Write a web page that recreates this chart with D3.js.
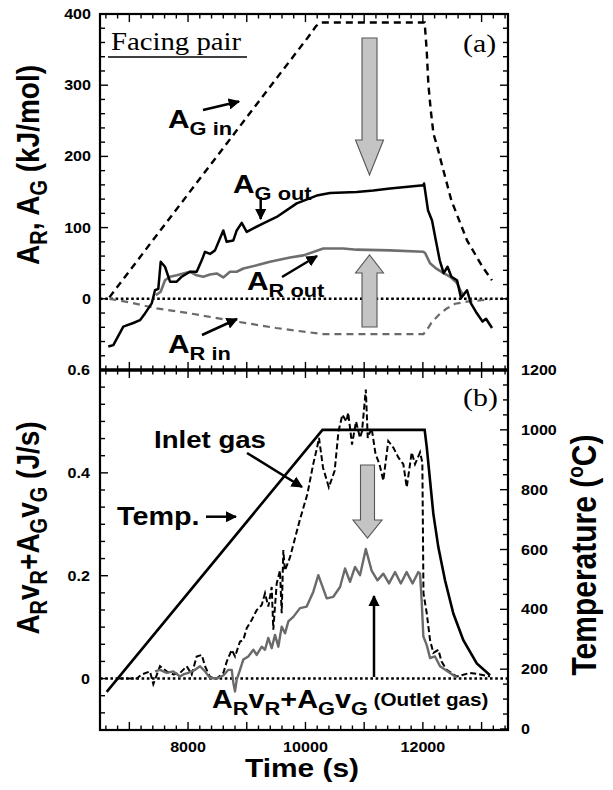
<!DOCTYPE html>
<html><head><meta charset="utf-8">
<script src="https://cdn.jsdelivr.net/npm/d3@7"></script>
<style>body{margin:0;background:#fff} svg{display:block}</style>
</head><body><svg id="c" width="613" height="790"></svg>
<script>
// ---------- data (time s, value) ----------
const agIn = [[6660,2],[7500,93],[8500,201],[9500,309],[10050,368],[10180,383],[10260,388],[12030,388],[12065,349],[12093,302],[12134,265],[12180,232],[12248,213],[12290,199],[12486,138],[12752,82],[13015,45],[13177,26]];
const arIn = [[6660,0],[7000,-5],[7466,-13.5],[8033,-20.5],[8829,-32],[9500,-41],[10000,-46.5],[10300,-49.5],[12010,-49.5],[12060,-45],[12150,-33],[12290,-21],[12400,-14],[12550,-7],[12750,-4],[13000,-2],[13150,-1]];
const agOut = [[6641,-67],[6727,-65],[6897,-39],[7067,-34],[7181,-30],[7267,-20.5],[7381,-6.5],[7437,12],[7493,14],[7534,52],[7607,45],[7693,24],[7807,24],[7892,31],[8033,38],[8147,38],[8233,54],[8289,66],[8374,63],[8459,68],[8600,96],[8658,80],[8771,82],[8829,96],[8914,106.6],[8999,94],[9112,99],[9282,106],[9510,115],[9851,134],[10192,145],[10418,148.7],[10873,150],[11156,152],[11440,155],[12008,159.5],[12020,162],[12088,124],[12156,110],[12221,82],[12287,54],[12354,36],[12420,45],[12486,31],[12582,26],[12650,1],[12752,12],[12817,-6],[12917,-20],[13016,-32],[13076,-28],[13178,-41]];
const arOut = [[7450,5],[7534,10],[7607,26],[7693,31],[7807,33],[8033,38],[8147,33],[8260,31],[8374,34],[8488,35.6],[8600,30],[8714,38],[8829,38],[8942,42.6],[9169,47],[9396,52],[9737,58],[9964,61],[10304,70.7],[10645,70.7],[10873,69],[11440,68],[12008,66],[12040,64],[12122,50],[12236,42],[12354,36],[12480,30],[12582,22],[12650,10],[12700,4]];
const temp = [[6614,124],[10290,1000],[12030,1000],[12066,942],[12122,831],[12178,720],[12263,608],[12377,497],[12519,386],[12689,297],[12918,219],[13144,180]];
const inlet = [[6800,0],[7125,0],[7210,0.008],[7352,0.014],[7408,-0.011],[7522,0.024],[7636,0.014],[7749,0.008],[7863,0.011],[7977,0.024],[8062,0.008],[8147,0.043],[8233,0.046],[8289,0.024],[8374,0.003],[8488,0],[8601,0.011],[8659,0.033],[8744,0.056],[8800,0.043],[8885,0.072],[8941,0.075],[8999,0.098],[9084,0.114],[9169,0.133],[9255,0.143],[9311,0.166],[9367,0.14],[9425,0.178],[9452,0.095],[9510,0.185],[9566,0.21],[9595,0.127],[9623,0.25],[9650,0.21],[9737,0.236],[9900,0.307],[10033,0.359],[10132,0.417],[10197,0.449],[10231,0.468],[10299,0.41],[10398,0.372],[10497,0.404],[10563,0.481],[10629,0.513],[10696,0.5],[10728,0.517],[10793,0.455],[10861,0.5],[10929,0.468],[10963,0.481],[11028,0.562],[11061,0.468],[11127,0.487],[11193,0.437],[11260,0.417],[11326,0.385],[11411,0.462],[11497,0.449],[11582,0.43],[11667,0.417],[11725,0.372],[11810,0.44],[11866,0.417],[11952,0.44],[11991,0.42],[12000,0.3],[12010,0.166],[12066,0.127],[12122,0.075],[12178,0.05],[12263,0.056],[12319,0.033],[12406,0.017],[12577,0.004],[12803,0.011],[12974,0.008],[13144,0.004]];
const outlet = [[7437,0.014],[7522,0.017],[7636,0.011],[7749,0.014],[7863,0.004],[7919,0.008],[8004,0.011],[8118,0.017],[8204,0.024],[8289,0.014],[8374,0.001],[8488,0],[8601,0.006],[8686,0.017],[8744,0.017],[8771,-0.008],[8800,-0.025],[8829,-0.002],[8885,0.017],[8941,0.037],[9026,0.043],[9112,0.056],[9169,0.046],[9255,0.062],[9311,0.056],[9367,0.079],[9425,0.059],[9481,0.085],[9538,0.062],[9595,0.101],[9652,0.088],[9708,0.111],[9793,0.12],[9907,0.137],[10021,0.14],[10134,0.169],[10219,0.201],[10362,0.156],[10474,0.159],[10589,0.178],[10674,0.214],[10759,0.188],[10844,0.217],[10929,0.201],[11028,0.252],[11127,0.21],[11226,0.191],[11326,0.204],[11423,0.185],[11526,0.207],[11624,0.185],[11723,0.207],[11824,0.185],[11922,0.207],[11952,0.204],[11980,0.15],[12008,0.082],[12066,0.065],[12122,0.04],[12207,0.043],[12292,0.024],[12462,0.011],[12577,0.002]];

// tick labels
const topYLabels = [0,100,200,300,400];
const botYLabels = [0,0.2,0.4,0.6];
const tempLabels = [0,200,400,600,800,1000,1200];
const timeLabels = [8000,10000,12000];

// ---------- layout ----------
const svg = d3.select('#c');
const L=100,R=508,T1=14,M=370,B2=730;
const SX=1.15;
const x = d3.scaleLinear().domain([6500,13450]).range([L,R]);
const yA = d3.scaleLinear().domain([-100,400]).range([M,T1]);
const yP = d3.scaleLinear().domain([-0.1,0.6]).range([B2,M]);
const yT = d3.scaleLinear().domain([0,1200]).range([729,M]);

const SANS="'Liberation Sans', Arial, sans-serif", SERIF="'Liberation Serif','Times New Roman',serif";

const defs = svg.append('defs');
defs.append('clipPath').attr('id','cp1').append('rect').attr('x',L).attr('y',T1).attr('width',R-L).attr('height',M-T1);
defs.append('clipPath').attr('id','cp2').append('rect').attr('x',L).attr('y',M).attr('width',R-L).attr('height',B2-M);
defs.append('marker').attr('id','ah').attr('viewBox','0 0 10 10').attr('refX',9).attr('refY',5)
  .attr('markerWidth',4.6).attr('markerHeight',4.6).attr('markerUnits','strokeWidth').attr('orient','auto')
  .append('path').attr('d','M0,0 L10,5 L0,10 z').attr('fill','#000');

const g1 = svg.append('g').attr('clip-path','url(#cp1)');
const g2 = svg.append('g').attr('clip-path','url(#cp2)');

function line(yS){ return d3.line().x(d=>x(d[0])).y(d=>yS(d[1])); }

g1.append('line').attr('x1',L).attr('x2',R).attr('y1',yA(0)).attr('y2',yA(0)).attr('stroke','#000').attr('stroke-width',2.6).attr('stroke-dasharray','2.6,2.6');
g2.append('line').attr('x1',L).attr('x2',R).attr('y1',yP(0)).attr('y2',yP(0)).attr('stroke','#000').attr('stroke-width',2.6).attr('stroke-dasharray','2.6,2.6');

g1.append('path').datum(agIn).attr('d',line(yA)).attr('fill','none').attr('stroke','#000').attr('stroke-width',2.4).attr('stroke-dasharray','7,5');
g1.append('path').datum(arIn).attr('d',line(yA)).attr('fill','none').attr('stroke','#6a6a6a').attr('stroke-width',2.2).attr('stroke-dasharray','7,5');
g1.append('path').datum(arOut).attr('d',line(yA)).attr('fill','none').attr('stroke','#6e6e6e').attr('stroke-width',2.6).attr('stroke-linejoin','round');
g1.append('path').datum(agOut).attr('d',line(yA)).attr('fill','none').attr('stroke','#000').attr('stroke-width',2.5).attr('stroke-linejoin','round');

g2.append('path').datum(temp).attr('d',line(yT)).attr('fill','none').attr('stroke','#000').attr('stroke-width',2.6);
g2.append('path').datum(inlet).attr('d',line(yP)).attr('fill','none').attr('stroke','#000').attr('stroke-width',2).attr('stroke-dasharray','6,3');
g2.append('path').datum(outlet).attr('d',line(yP)).attr('fill','none').attr('stroke','#6a6a6a').attr('stroke-width',2.4).attr('stroke-linejoin','round');

// ---------- frames & ticks ----------
const ax = svg.append('g').attr('stroke','#000');
function vt(xx, y0, y1, w){ ax.append('line').attr('x1',xx).attr('x2',xx).attr('y1',y0).attr('y2',y1).attr('stroke-width',w||1.4); }
function ht(yy, x0, x1, w){ ax.append('line').attr('x1',x0).attr('x2',x1).attr('y1',yy).attr('y2',yy).attr('stroke-width',w||1.4); }

const xMinor = d3.range(6600,13450,200);
xMinor.forEach(t=>{ const isM = t%1000===0, l = isM?8:4.5;
  vt(x(t), T1, T1+l); vt(x(t), M-l, M+l); vt(x(t), B2, B2-l); });
d3.range(-100,401,20).forEach(v=>{ const isM=v%100===0, l=isM?8:5;
  ht(yA(v), L, L+l); ht(yA(v), R, R-l); });
d3.range(-0.1,0.601,0.2/6).forEach(v=>{ const isM=Math.abs(v*5-Math.round(v*5))<1e-6, l=isM?8:5;
  if(yP(v)<=B2+0.5) ht(yP(v), L, L+l); });
d3.range(0,1201,50).forEach(v=>{ const isM=v%200===0, l=isM?8:5; ht(yT(v), R, R-l); });

svg.append('rect').attr('x',L).attr('y',T1).attr('width',R-L).attr('height',B2-T1).attr('fill','none').attr('stroke','#000').attr('stroke-width',2.2);
ht(M, L, R, 3.4);

// ---------- text ----------
function txt(xx, yy, parts, o){
  o=o||{};
  const tr = `translate(${xx},${yy}) scale(${o.sx||SX},1)` + (o.rot?` rotate(${o.rot})`:'');
  const t = svg.append('text').attr('transform',tr).attr('font-family',o.font||SANS)
    .attr('font-weight',o.weight||'bold').attr('font-size',o.size||26).attr('text-anchor',o.anchor||'start').attr('fill','#000');
  parts.forEach(p=>{ const s=t.append('tspan').text(p.t); if(p.s) s.attr('font-size',p.s); if(p.dy) s.attr('dy',p.dy); });
  return t;
}
topYLabels.forEach(v=> txt(91, yA(v)+5, [{t:String(v)}], {size:14, anchor:'end'}));
botYLabels.forEach(v=> txt(90, yP(v)+5, [{t:String(v)}], {size:14, anchor:'end'}));
tempLabels.forEach(v=> txt(521, yT(v)+5, [{t:String(v)}], {size:14}));
timeLabels.forEach(v=> txt(x(v), 752, [{t:String(v)}], {size:14, anchor:'middle'}));

txt(302, 777, [{t:'Time (s)'}], {size:26, anchor:'middle'});
txt(39, 165, [{t:'A'},{t:'R',s:20,dy:7},{t:', A',dy:-7},{t:'G',s:20,dy:7},{t:' (kJ/mol)',dy:-7}], {size:28, anchor:'middle', rot:-90});
txt(39, 528, [{t:'A'},{t:'R',s:20,dy:7},{t:'v',dy:-7},{t:'R',s:20,dy:7},{t:'+A',dy:-7},{t:'G',s:20,dy:7},{t:'v',dy:-7},{t:'G',s:20,dy:7},{t:' (J/s)',dy:-7}], {size:28, anchor:'middle', rot:-90});
txt(596, 555, [{t:'Temperature ('},{t:'o',s:19,dy:-11},{t:'C)',dy:11}], {size:30, anchor:'middle', rot:-90});

txt(111, 50, [{t:'Facing pair'}], {font:SERIF, weight:'normal', size:25});
svg.append('line').attr('x1',108).attr('x2',247).attr('y1',57).attr('y2',57).attr('stroke','#000').attr('stroke-width',1.5);
txt(463, 52, [{t:'(a)'}], {font:SERIF, weight:'normal', size:26});
txt(463, 406, [{t:'(b)'}], {font:SERIF, weight:'normal', size:26});

txt(168, 128, [{t:'A'},{t:'G in',s:19,dy:7}], {size:26});
txt(233, 193, [{t:'A'},{t:'G out',s:19,dy:7}], {size:26});
txt(247, 290, [{t:'A'},{t:'R out',s:19,dy:7}], {size:26});
txt(168, 353, [{t:'A'},{t:'R in',s:19,dy:7}], {size:26});
txt(154, 448, [{t:'Inlet gas'}], {size:24});
txt(117, 525, [{t:'Temp.'}], {size:25});
txt(212, 708, [{t:'A'},{t:'R',s:19,dy:7},{t:'v',dy:-7},{t:'R',s:19,dy:7},{t:'+A',dy:-7},{t:'G',s:19,dy:7},{t:'v',dy:-7},{t:'G',s:19,dy:7},{t:' (Outlet gas)',s:18,dy:-9}], {size:25});

// ---------- arrows ----------
function arrow(x1,y1,x2,y2){ svg.append('line').attr('x1',x1).attr('y1',y1).attr('x2',x2).attr('y2',y2).attr('stroke','#000').attr('stroke-width',2.5).attr('marker-end','url(#ah)'); }
arrow(203,110,239,101.5);
arrow(260.7,197,260.7,219);
arrow(282,277,317,256);
arrow(202,335,237,319);
arrow(247,453,302,487);
arrow(206,516.7,236,516.7);
arrow(374,677,374,596);

function blockArrow(cx, yBase, yHead, yTip, sh, hh){
  const p = d3.path();
  p.moveTo(cx-sh,yBase); p.lineTo(cx-sh,yHead); p.lineTo(cx-hh,yHead); p.lineTo(cx,yTip);
  p.lineTo(cx+hh,yHead); p.lineTo(cx+sh,yHead); p.lineTo(cx+sh,yBase); p.closePath();
  svg.append('path').attr('d',p.toString()).attr('fill','#c4c4c4').attr('stroke','#555').attr('stroke-width',1.1);
}
blockArrow(369.5, 38, 140, 175, 7.5, 14);
blockArrow(369.5, 327, 273, 255, 7.5, 14);
blockArrow(367.5, 465, 520, 538, 7, 14.5);
</script></body></html>
